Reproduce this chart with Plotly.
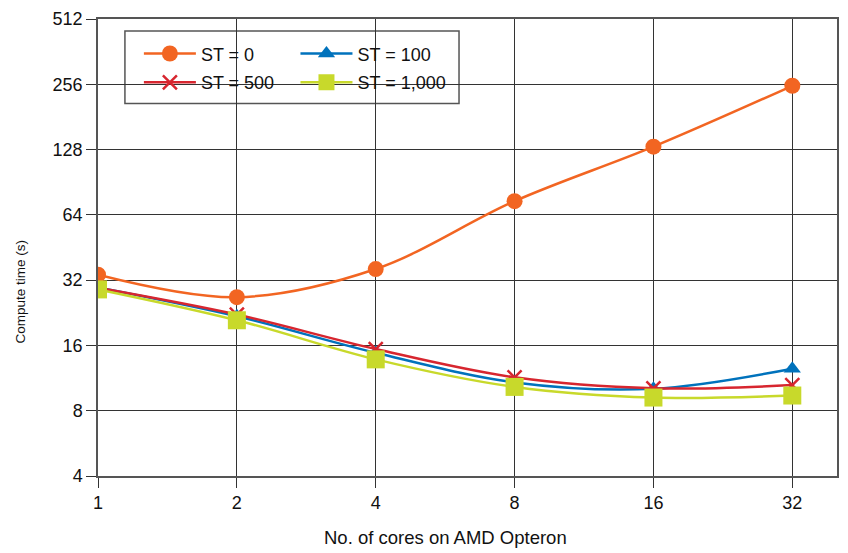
import plotly.graph_objects as go
import math

cores = [1, 2, 4, 8, 16, 32]
st0 = [33.9, 26.7, 36.0, 74.0, 132.0, 252.0]
st100 = [29.6, 21.8, 14.8, 10.8, 10.1, 12.5]
st500 = [29.5, 22.2, 15.4, 11.4, 10.15, 10.5]
st1000 = [29.0, 20.9, 13.8, 10.3, 9.2, 9.4]
xticks = [1, 2, 4, 8, 16, 32]
yticks = [4, 8, 16, 32, 64, 128, 256, 512]
x_title = "No. of cores on AMD Opteron"
y_title = "Compute time (s)"

FONT = "Liberation Sans, Arial, sans-serif"
ORANGE = "#F26522"
RED = "#D7262F"
BLUE = "#0072BC"
YELLOW = "#C8D92B"

fig = go.Figure()
fig.add_trace(go.Scatter(x=cores, y=st100, name="ST = 100", mode="lines+markers",
                         line=dict(color=BLUE, width=2.5, shape="spline"),
                         marker=dict(symbol="triangle-up", size=15, color=BLUE),
                         legend="legend3"))
fig.add_trace(go.Scatter(x=cores, y=st500, name="ST = 500", mode="lines+markers",
                         line=dict(color=RED, width=2.5, shape="spline"),
                         marker=dict(symbol="x-thin", size=14, color=RED,
                                     line=dict(color=RED, width=2.5)),
                         legend="legend2"))
fig.add_trace(go.Scatter(x=cores, y=st0, name="ST = 0", mode="lines+markers",
                         line=dict(color=ORANGE, width=2.5, shape="spline"),
                         marker=dict(symbol="circle", size=16, color=ORANGE),
                         legend="legend"))
fig.add_trace(go.Scatter(x=cores, y=st1000, name="ST = 1,000", mode="lines+markers",
                         line=dict(color=YELLOW, width=2.5, shape="spline"),
                         marker=dict(symbol="square", size=18, color=YELLOW),
                         legend="legend4"))

W, H = 848, 553
L, R, T, B = 98, 9, 16, 77
pw, ph = W - L - R, H - T - B

def px(xp):
    return (xp - L) / pw

def py(yp):
    return 1 - (yp - T) / ph

leg_common = dict(bgcolor="rgba(0,0,0,0)", borderwidth=0,
                  font=dict(family=FONT, size=18, color="#111"),
                  xanchor="left", yanchor="middle", itemwidth=52)

fig.update_layout(
    width=W, height=H,
    margin=dict(l=L, r=R, t=T, b=B),
    paper_bgcolor="white", plot_bgcolor="white",
    font=dict(family=FONT, size=18, color="#111"),
    showlegend=True,
    legend=dict(x=px(139), y=py(51), **leg_common),
    legend2=dict(x=px(139), y=py(80), **leg_common),
    legend3=dict(x=px(296), y=py(51), **leg_common),
    legend4=dict(x=px(296), y=py(80), **leg_common),
    shapes=[dict(type="rect", xref="paper", yref="paper",
                 x0=px(125), x1=px(460), y0=py(101), y1=py(28),
                 line=dict(color="#555", width=1.5), fillcolor="white", layer="below")],
    annotations=[
        dict(text=x_title, xref="paper", yref="paper", x=px(446), y=py(538),
             xanchor="center", yanchor="middle", showarrow=False,
             font=dict(family=FONT, size=18.5, color="#111")),
        dict(text=y_title, xref="paper", yref="paper", x=px(20), y=py(290),
             xanchor="center", yanchor="middle", showarrow=False, textangle=-90,
             font=dict(family=FONT, size=13.5, color="#111")),
    ],
)

fig.update_xaxes(type="log", range=[0, math.log10(40)],
                 tickvals=xticks, ticktext=[str(v) for v in xticks],
                 showgrid=True, gridcolor="#333", gridwidth=1.3,
                 showline=True, linecolor="#555", linewidth=1.5, mirror=True,
                 ticks="outside", ticklen=10, tickcolor="#333", tickwidth=1.3,
                 tickfont=dict(size=18), zeroline=False)
fig.update_yaxes(type="log", range=[math.log10(4), math.log10(512)],
                 tickvals=yticks, ticktext=[str(v) for v in yticks],
                 showgrid=True, gridcolor="#333", gridwidth=1.3,
                 showline=True, linecolor="#555", linewidth=1.5, mirror=True,
                 ticks="outside", ticklen=10, tickcolor="#333", tickwidth=1.3,
                 tickfont=dict(size=18), zeroline=False)

fig.write_html("out.html", config={"displayModeBar": False},
               post_script="document.body.style.margin='0';document.body.style.overflow='hidden';")
